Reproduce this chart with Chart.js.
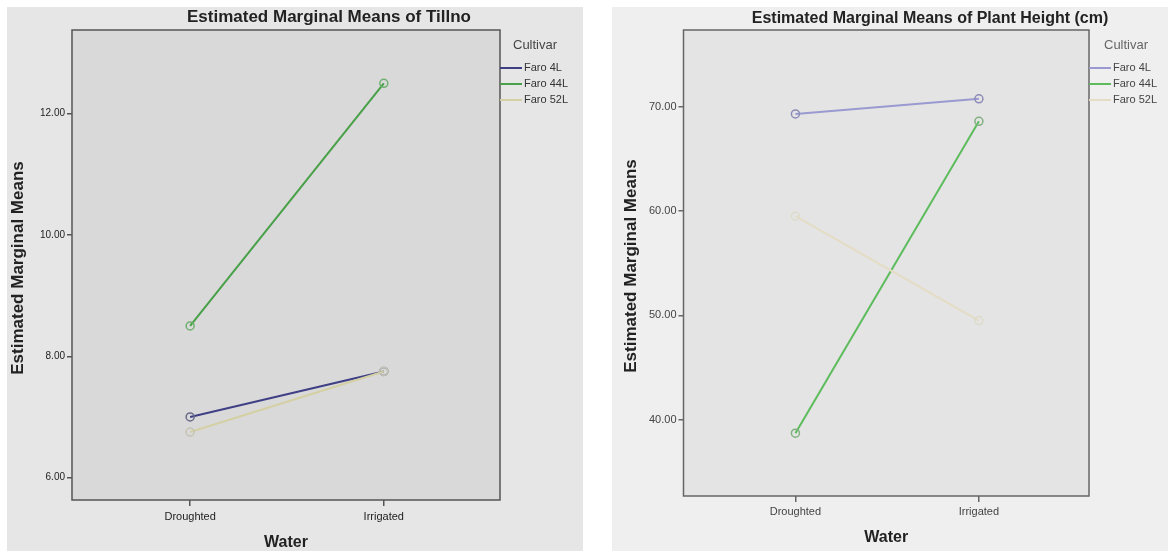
<!DOCTYPE html>
<html>
<head>
<meta charset="utf-8">
<script src="https://cdn.jsdelivr.net/npm/chart.js@4.4.1/dist/chart.umd.min.js"></script>
<style>
  body { margin: 0; background: #ffffff; width: 1168px; height: 551px; position: relative; overflow: hidden; }
  canvas { position: absolute; }
  #tillnoChart { left: 7px; top: 7px; background: #e6e6e6; }
  #heightChart { left: 612px; top: 7px; background: #efefef; }
</style>
</head>
<body>
<canvas id="tillnoChart" width="576" height="544"></canvas>
<canvas id="heightChart" width="556" height="544"></canvas>
<script>
const waterLevels = ['Droughted', 'Irrigated'];
const cultivars = ['Faro 4L', 'Faro 44L', 'Faro 52L'];

const tillnoFaro4L = [7.0, 7.75];
const tillnoFaro44L = [8.5, 12.5];
const tillnoFaro52L = [6.75, 7.75];
const tillnoTicks = [6, 8, 10, 12];

const heightFaro4L = [69.3, 70.75];
const heightFaro44L = [38.7, 68.6];
const heightFaro52L = [59.5, 49.5];
const heightTicks = [40, 50, 60, 70];

const FONT = '"Liberation Sans", Arial, sans-serif';

// background, frame, titles and legend drawn round the plot
const panelDecor = {
  id: 'panelDecor',
  beforeDraw(chart, args, o) {
    const a = chart.chartArea;
    const ctx = chart.ctx;
    ctx.save();
    ctx.fillStyle = o.plotColor;
    ctx.fillRect(a.left, a.top, a.right - a.left, a.bottom - a.top);
    ctx.restore();
  },
  afterDraw(chart, args, o) {
    const a = chart.chartArea;
    const ctx = chart.ctx;
    ctx.save();
    ctx.strokeStyle = o.frameColor;
    ctx.lineWidth = 1.5;
    ctx.strokeRect(a.left, a.top, a.right - a.left, a.bottom - a.top);

    ctx.fillStyle = '#222';
    ctx.textAlign = 'center';
    ctx.textBaseline = 'middle';
    ctx.font = 'bold ' + o.titleSize + 'px ' + FONT;
    ctx.fillText(o.title, o.titleX, o.titleY);

    ctx.font = 'bold 16px ' + FONT;
    ctx.fillText('Water', (a.left + a.right) / 2, o.xTitleY);

    ctx.save();
    ctx.translate(o.yTitleX, (a.top + a.bottom) / 2 + 3);
    ctx.rotate(-Math.PI / 2);
    ctx.font = 'bold 17px ' + FONT;
    ctx.fillText('Estimated Marginal Means', 0, 0);
    ctx.restore();

    // legend
    ctx.textAlign = 'left';
    ctx.font = '13px ' + FONT;
    ctx.fillStyle = o.legendTitleColor;
    ctx.fillText('Cultivar', o.legendTitleX, 38);
    ctx.font = '11px ' + FONT;
    chart.data.datasets.forEach((ds, i) => {
      const y = 61 + i * 16;
      ctx.strokeStyle = ds.borderColor;
      ctx.lineWidth = 2;
      ctx.beginPath();
      ctx.moveTo(a.right, y);
      ctx.lineTo(a.right + 22, y);
      ctx.stroke();
      ctx.fillStyle = o.legendTextColor;
      ctx.fillText(ds.label, a.right + 24, y);
    });
    ctx.restore();
  }
};

function series(label, values, color, pointColor, order) {
  return {
    label: label,
    data: values.map((v, i) => ({ x: i, y: v })),
    order: order,
    borderColor: color,
    borderWidth: 2,
    pointStyle: 'circle',
    pointRadius: 4,
    pointBorderWidth: 1.5,
    pointBorderColor: pointColor,
    pointBackgroundColor: 'rgba(0,0,0,0)'
  };
}

function makeChart(id, datasets, yMin, yMax, yTicks, cfg) {
  return new Chart(document.getElementById(id), {
    type: 'line',
    data: { datasets: datasets },
    plugins: [panelDecor],
    options: {
      responsive: false,
      animation: false,
      devicePixelRatio: 1,
      layout: { autoPadding: false, padding: { left: 0, top: 23, right: cfg.rightPad, bottom: 0 } },
      plugins: {
        legend: { display: false },
        tooltip: { enabled: false },
        panelDecor: cfg.decor
      },
      scales: {
        x: {
          type: 'linear',
          min: -0.61,
          max: 1.6,
          afterBuildTicks: s => { s.ticks = waterLevels.map((w, i) => ({ value: i })); },
          afterFit: s => { s.height = cfg.xHeight; },
          border: { display: false },
          grid: { drawOnChartArea: false, drawTicks: true, tickLength: 6, color: cfg.decor.frameColor, lineWidth: 1.5 },
          ticks: {
            padding: cfg.xTickPad,
            color: cfg.tickColor,
            font: { family: FONT, size: 11 },
            callback: v => waterLevels[v]
          }
        },
        y: {
          min: yMin,
          max: yMax,
          afterBuildTicks: s => { s.ticks = yTicks.map(v => ({ value: v })); },
          afterFit: s => { s.width = cfg.yWidth; },
          border: { display: false },
          grid: { drawOnChartArea: false, drawTicks: true, tickLength: 5, color: cfg.decor.frameColor, lineWidth: 1.5 },
          ticks: {
            padding: 2,
            color: cfg.tickColor,
            font: { family: FONT, size: cfg.yTickSize },
            callback: v => v.toFixed(2)
          }
        }
      }
    }
  });
}

makeChart('tillnoChart', [
  series(cultivars[0], tillnoFaro4L, '#3f3f85', '#6a6a8a', 2),
  series(cultivars[1], tillnoFaro44L, '#48a048', '#70b070', 1),
  series(cultivars[2], tillnoFaro52L, '#d4d0a4', '#c4c4b4', 0)
], 5.63, 13.38, tillnoTicks, {
  rightPad: 83, xHeight: 51, yWidth: 65, xTickPad: 4, tickColor: '#222', yTickSize: 10,
  decor: {
    plotColor: '#d9d9d9', frameColor: '#555555',
    title: 'Estimated Marginal Means of Tillno', titleSize: 17, titleX: 322, titleY: 10,
    xTitleY: 536, yTitleX: 11.5, legendTitleX: 506, legendTitleColor: '#444', legendTextColor: '#333'
  }
});

makeChart('heightChart', [
  series(cultivars[0], heightFaro4L, '#9a9ad0', '#8c8cb8', 2),
  series(cultivars[1], heightFaro44L, '#5cbc5c', '#80b080', 1),
  series(cultivars[2], heightFaro52L, '#e4dcc4', '#dcdccc', 0)
], 32.68, 77.35, heightTicks, {
  rightPad: 79, xHeight: 55, yWidth: 71.5, xTickPad: 3, tickColor: '#444', yTickSize: 11,
  decor: {
    plotColor: '#e4e4e4', frameColor: '#666666',
    title: 'Estimated Marginal Means of Plant Height (cm)', titleSize: 16, titleX: 318, titleY: 12,
    xTitleY: 531, yTitleX: 19.5, legendTitleX: 492, legendTitleColor: '#666', legendTextColor: '#444'
  }
});
</script>
</body>
</html>
